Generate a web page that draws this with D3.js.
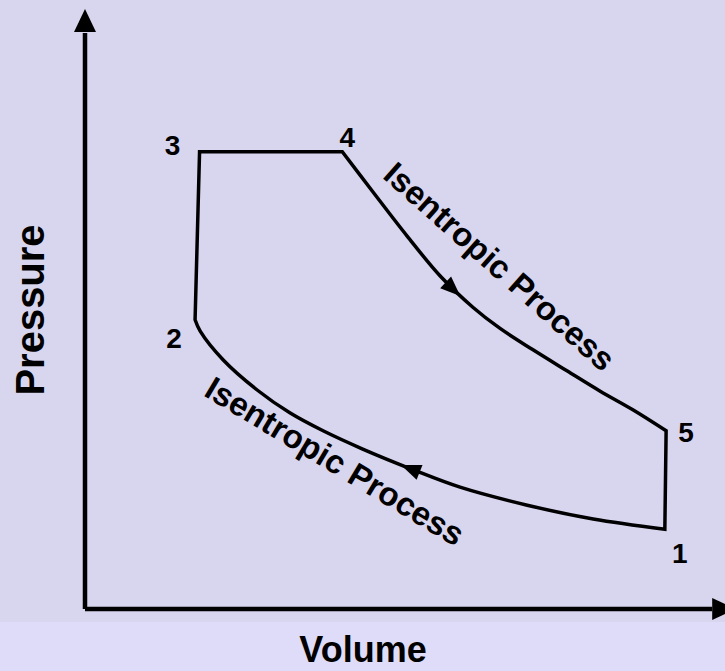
<!DOCTYPE html>
<html>
<head>
<meta charset="utf-8">
<script src="https://cdn.jsdelivr.net/npm/d3@7"></script>
<style>
  html, body { margin: 0; padding: 0; background: #dedcf8; }
  svg { display: block; }
  text { font-family: "Liberation Sans", Arial, sans-serif; font-weight: bold; fill: #000; }
</style>
</head>
<body>
<svg id="chart"></svg>
<script>
// dual cycle on a P-V chart, values in arbitrary units
const compressionV = [9.06, 7.94, 6.91, 5.86, 5.13, 4.33, 3.72, 3.20, 2.69, 2.16, 1.80, 1.72];
const compressionP = [1.33, 1.50, 1.73, 2.03, 2.32, 2.67, 2.97, 3.27, 3.65, 4.15, 4.63, 4.82];
const expansionV = [4.02, 4.50, 5.03, 5.55, 6.06, 6.48, 7.00, 7.53, 8.05, 8.56, 9.08];
const expansionP = [7.62, 6.95, 6.22, 5.55, 5.03, 4.68, 4.32, 3.97, 3.63, 3.32, 2.97];
const stateNames = ["1", "2", "3", "4", "5"];
const stateV = [9.06, 1.72, 1.79, 4.02, 9.08];
const stateP = [1.33, 4.82, 7.62, 7.62, 2.97];
const processLabels = ["Isentropic Process", "Isentropic Process"];
const xLabel = "Volume";
const yLabel = "Pressure";

const W = 725, H = 671;
const svg = d3.select("#chart").attr("width", W).attr("height", H);

// background (the photo behind the slide is only hinted at)
svg.append("rect").attr("width", W).attr("height", H).attr("fill", "#dedcf8");
svg.append("rect").attr("width", W).attr("height", 622).attr("fill", "#d8d5ee");

const x = d3.scaleLinear().domain([0, 10]).range([85, 725]);
const y = d3.scaleLinear().domain([0, 10]).range([609, 9]);

const pts = (vs, ps) => vs.map((v, i) => [x(v), y(ps[i])]);
const state = stateV.map((v, i) => [x(v), y(stateP[i])]);

const curved = d3.line().curve(d3.curveCatmullRom.alpha(0.5));
const straight = d3.line();

// 1 -> 2 compression, 2 -> 3, 3 -> 4, 4 -> 5 expansion, 5 -> 1
const segs = [
  curved(pts(compressionV, compressionP)),
  straight([state[1], state[2]]),
  straight([state[2], state[3]]),
  curved(pts(expansionV, expansionP)),
  straight([state[4], state[0]])
];
const cycle = segs.map((s, i) => i ? s.replace(/^M/, "L") : s).join("") + "Z";

svg.append("path")
  .attr("d", cycle)
  .attr("fill", "none")
  .attr("stroke", "#000")
  .attr("stroke-width", 3.5)
  .attr("stroke-linejoin", "miter");

// direction arrows on the two curves
function arrowOn(d, tip) {
  const p = svg.append("path").attr("d", d).attr("fill", "none");
  const node = p.node(), L = node.getTotalLength();
  let best = 0, bd = Infinity;
  for (let l = 0; l <= L; l += 0.5) {
    const q = node.getPointAtLength(l);
    const dd = (q.x - tip[0]) ** 2 + (q.y - tip[1]) ** 2;
    if (dd < bd) { bd = dd; best = l; }
  }
  const a = node.getPointAtLength(best), b = node.getPointAtLength(Math.max(0, best - 2));
  const ang = Math.atan2(a.y - b.y, a.x - b.x) * 180 / Math.PI;
  p.remove();
  svg.append("path")
    .attr("d", "M0,0L-20,-8L-20,8Z")
    .attr("transform", `translate(${a.x},${a.y}) rotate(${ang})`)
    .attr("fill", "#000");
}
arrowOn(segs[3], [x(5.83), y(5.18)]);
arrowOn(segs[0], [x(4.95), y(2.43)]);

// axes with arrow heads
const axes = svg.append("g");
axes.append("path")
  .attr("d", `M${x(0)},${y(0)}V${y(9.6)}M${x(0)},${y(0)}H${x(9.8)}`)
  .attr("fill", "none").attr("stroke", "#000").attr("stroke-width", 4.5);
axes.append("path")
  .attr("d", `M${x(0)},${y(10)}l-11,23h22Z`)
  .attr("fill", "#000");
axes.append("path")
  .attr("d", `M${x(9.8) + 23},${y(0)}l-23,-11v22Z`)
  .attr("fill", "#000");

svg.append("text")
  .attr("x", 363).attr("y", 662)
  .attr("text-anchor", "middle")
  .attr("font-size", 36)
  .text(xLabel);
svg.append("text")
  .attr("transform", "translate(44,310) rotate(-90)")
  .attr("text-anchor", "middle")
  .attr("font-size", 40)
  .text(yLabel);

// state numbers
const numOffset = [[15, 34], [-21, 28], [-27, 3], [5, -5], [20, 11]];
svg.selectAll(".num").data(stateNames).join("text")
  .attr("class", "num")
  .attr("x", (d, i) => state[i][0] + numOffset[i][0])
  .attr("y", (d, i) => state[i][1] + numOffset[i][1])
  .attr("text-anchor", "middle")
  .attr("font-size", 28)
  .text(d => d);

// process labels, tilted along the curves
const labelPos = [[492, 275, 41.5], [329, 471, 31]];
svg.selectAll(".proc").data(processLabels).join("text")
  .attr("class", "proc")
  .attr("transform", (d, i) => `translate(${labelPos[i][0]},${labelPos[i][1]}) rotate(${labelPos[i][2]})`)
  .attr("text-anchor", "middle")
  .attr("font-size", 33)
  .text(d => d);
</script>
</body>
</html>
